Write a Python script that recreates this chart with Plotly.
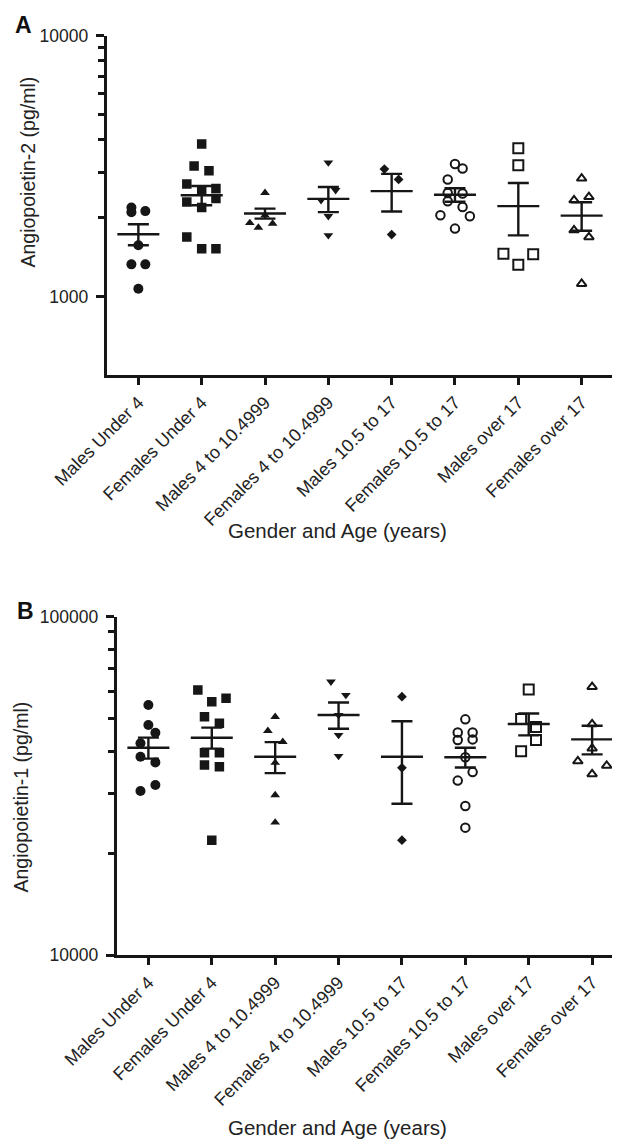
import plotly.graph_objects as go
import math

categories = ["Males Under 4", "Females Under 4", "Males 4 to 10.4999", "Females 4 to 10.4999",
              "Males 10.5 to 17", "Females 10.5 to 17", "Males over 17", "Females over 17"]

# Panel A: Angiopoietin-2 (pg/ml)
a_values = [
    [2193, 2104, 2125, 1571, 1328, 1328, 1071],
    [3842, 3162, 3034, 2697, 2596, 2535, 2376, 2305, 2193, 1690, 1525, 1525],
    [2497, 2049, 1914, 1837, 1904],
    [3263, 2557, 2341, 2031, 1717],
    [3080, 2811, 1727],
    [3220, 3098, 2811, 2496, 2483, 2319, 2205, 2049, 2031, 1821],
    [3698, 3189, 1460, 1324, 1451],
    [2837, 2341, 2409, 1795, 1690, 1119],
]
a_jitter = [
    [-0.11, -0.11, 0.11, 0, -0.11, 0.11, 0],
    [0, -0.12, 0.115, -0.235, 0.225, 0, 0.225, -0.235, 0, -0.235, 0, 0.225],
    [0, 0, -0.24, -0.105, 0.12],
    [0, 0.115, -0.115, 0, 0],
    [-0.115, 0.11, 0],
    [0, 0.12, -0.115, -0.115, 0.12, -0.115, 0.12, -0.23, 0.235, 0],
    [0, 0, -0.235, 0, 0.235],
    [0, -0.12, 0.115, -0.12, 0.115, 0],
]
a_mean = [1732, 2446, 2080, 2367, 2535, 2454, 2220, 2042]
a_sem = [160, 207, 92, 261, 418, 147, 505, 255]

# Panel B: Angiopoietin-1 (pg/ml)
b_values = [
    [54750, 47790, 45340, 42200, 38510, 37070, 31770, 30500],
    [60630, 56010, 57310, 50560, 48340, 39570, 39570, 36390, 35970, 21840],
    [50560, 45960, 42650, 36980, 29690, 24640],
    [64170, 58610, 51150, 44630, 38690],
    [57940, 35730, 21840],
    [49680, 45410, 45410, 43150, 43350, 38380, 34700, 32750, 27540, 23780],
    [60840, 49770, 47130, 43150, 39990],
    [62000, 48110, 40780, 37360, 36270, 34230],
]
b_jitter = [
    [0, 0, 0.11, -0.125, -0.125, 0.11, 0.11, -0.125],
    [-0.22, 0, 0.225, -0.115, 0.12, -0.115, 0.12, -0.115, 0.12, 0],
    [0, -0.115, 0.12, 0, 0, 0],
    [-0.12, 0.115, 0, 0, 0],
    [0, 0, 0],
    [0, -0.12, 0.115, -0.12, 0.115, 0, 0.115, -0.12, 0, 0],
    [0, -0.12, 0.115, 0.115, -0.12],
    [0, 0, 0, -0.225, 0.23, 0],
]
b_mean = [40950, 43830, 38510, 51150, 38510, 38380, 48110, 43350]
b_sem = [2920, 3120, 4050, 4560, 10530, 2560, 3560, 4210]

INK = "#161616"
symbols = ["circle", "square", "triangle-up", "triangle-down", "diamond",
           "circle-open", "square-open", "triangle-up-open"]
sizes = [10, 9.5, 8.5, 8.5, 7.5, 8.5, 10, 8.5]

W, H = 620, 1144
OFF = 8  # page body margin


def fx(px):
    return (px - OFF) / W


def fy(py):
    return 1 - (py - OFF) / H


fig = go.Figure()


def add_panel(values, jitter, means, sems, xa, ya):
    for i, (vals, jit) in enumerate(zip(values, jitter)):
        sym = symbols[i]
        is_open = sym.endswith("open")
        fig.add_trace(go.Scatter(
            x=[i + d for d in jit], y=vals, mode="markers", xaxis=xa, yaxis=ya,
            marker=dict(symbol=sym, size=sizes[i], color=INK,
                        line=dict(width=2 if is_open else 0, color=INK)),
            showlegend=False, hoverinfo="skip"))
    fig.add_trace(go.Scatter(
        x=list(range(len(means))), y=means, mode="markers", xaxis=xa, yaxis=ya,
        marker=dict(symbol="line-ew", size=30, color=INK, line=dict(width=2.4, color=INK)),
        error_y=dict(type="data", array=sems, visible=True, color=INK, thickness=2.4, width=10.5),
        showlegend=False, hoverinfo="skip"))


add_panel(a_values, a_jitter, a_mean, a_sem, "x", "y")
add_panel(b_values, b_jitter, b_mean, b_sem, "x2", "y2")

tickfont = dict(family="Liberation Sans, Arial, sans-serif", size=17.5, color="#222")
xtickfont = dict(family="Liberation Sans, Arial, sans-serif", size=18, color="#222")


def xaxis(domain, rng, anchor):
    return dict(domain=domain, range=rng, anchor=anchor, tickmode="array",
                tickvals=list(range(len(categories))), ticktext=categories,
                tickangle=-45, tickfont=xtickfont, ticks="outside", ticklen=7,
                tickwidth=2.5, tickcolor=INK, showline=True, linewidth=3,
                linecolor=INK, showgrid=False, zeroline=False, automargin=False)


def yaxis(domain, rng, anchor, major, minor):
    return dict(domain=domain, range=rng, anchor=anchor, type="log",
                tickmode="array", tickvals=major, ticktext=[str(v) for v in major],
                tickfont=tickfont, ticks="outside", ticklen=8, tickwidth=2.5,
                tickcolor=INK, showline=True, linewidth=3, linecolor=INK,
                showgrid=False, zeroline=False, ticklabelstandoff=4, automargin=False,
                minor=dict(tickmode="array", tickvals=minor, ticks="outside",
                           ticklen=6, tickwidth=2.5, tickcolor=INK, showgrid=False))


fig.update_layout(
    width=W, height=H, margin=dict(l=0, r=0, t=0, b=0, pad=0, autoexpand=False),
    paper_bgcolor="white", plot_bgcolor="white",
    xaxis=xaxis([fx(106.7), fx(613.3)], [-0.5, 7.5], "y"),
    yaxis=yaxis([fy(375), fy(35.7)], [math.log10(500), 4], "x",
                [1000, 10000], [2000, 3000, 4000, 5000, 6000, 7000, 8000, 9000]),
    xaxis2=xaxis([fx(116.7), fx(620)], [-0.5, 7.44], "y2"),
    yaxis2=yaxis([fy(955), fy(616.5)], [4, 5], "x2",
                 [10000, 100000], [20000, 30000, 40000, 50000, 60000, 70000, 80000, 90000]),
)

font_t = dict(family="Liberation Sans, Arial, sans-serif", size=19.5, color="#222")
font_x = dict(family="Liberation Sans, Arial, sans-serif", size=20.5, color="#222")
font_p = dict(family="Liberation Sans, Arial, sans-serif", size=23, color="#111")
ann = [
    dict(text="<b>A</b>", x=23, y=25, font=font_p),
    dict(text="<b>B</b>", x=25, y=611, font=font_p),
    dict(text="Angiopoietin-2 (pg/ml)", x=27.5, y=172, font=font_t, textangle=-90),
    dict(text="Angiopoietin-1 (pg/ml)", x=20.5, y=797, font=font_t, textangle=-90),
    dict(text="Gender and Age (years)", x=337, y=530, font=font_x),
    dict(text="Gender and Age (years)", x=337, y=1127, font=font_x),
]
for a in ann:
    fig.add_annotation(text=a["text"], x=fx(a["x"]), y=fy(a["y"]), xref="paper", yref="paper",
                       xanchor="center", yanchor="middle", showarrow=False, font=a["font"],
                       textangle=a.get("textangle", 0), borderpad=0)

fig.write_html("out.html")
